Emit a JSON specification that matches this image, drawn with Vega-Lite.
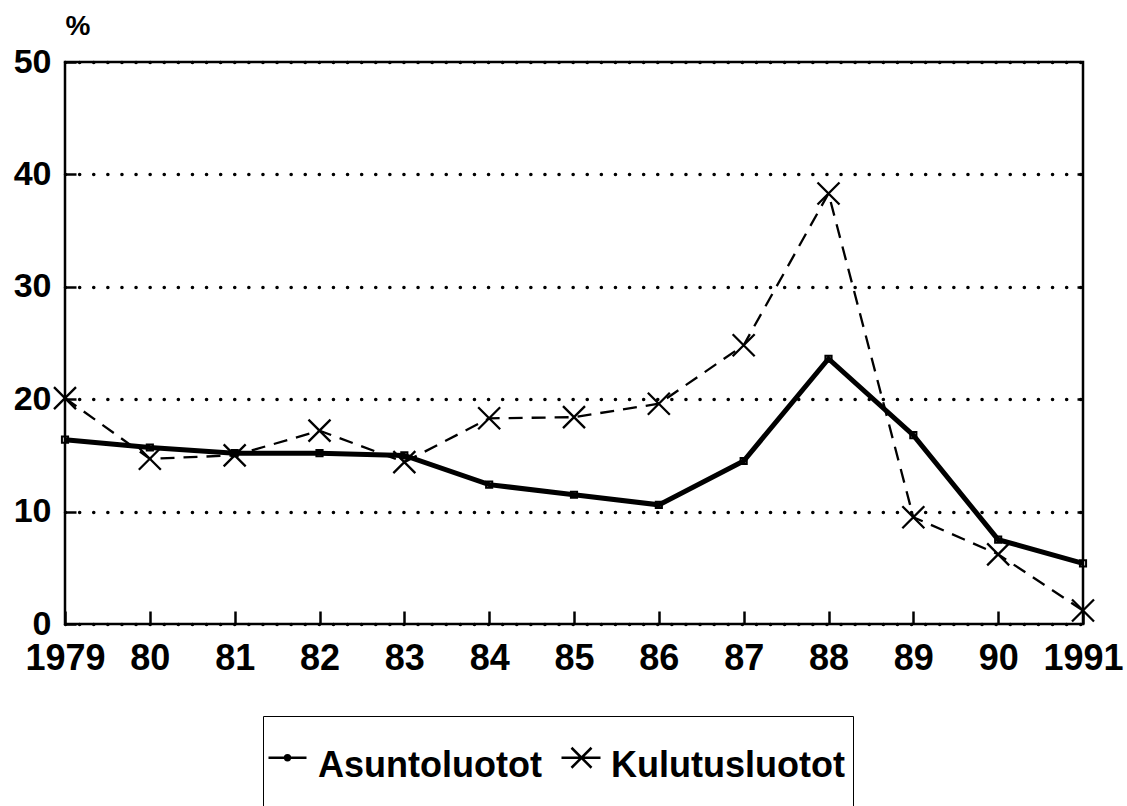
{
  "$schema": "https://vega.github.io/schema/vega-lite/v6.json",
  "width": 1018,
  "height": 562,
  "autosize": "none",
  "padding": {"left": 65, "top": 62, "right": 44, "bottom": 182},
  "background": "white",
  "config": {
    "view": {"stroke": "black", "strokeWidth": 2.5},
    "font": "Liberation Sans"
  },
  "data": {
    "values": [
      {"year": 1979, "series": "Asuntoluotot", "value": 16.4},
      {"year": 1980, "series": "Asuntoluotot", "value": 15.7},
      {"year": 1981, "series": "Asuntoluotot", "value": 15.2},
      {"year": 1982, "series": "Asuntoluotot", "value": 15.2},
      {"year": 1983, "series": "Asuntoluotot", "value": 15.0},
      {"year": 1984, "series": "Asuntoluotot", "value": 12.4},
      {"year": 1985, "series": "Asuntoluotot", "value": 11.5},
      {"year": 1986, "series": "Asuntoluotot", "value": 10.6},
      {"year": 1987, "series": "Asuntoluotot", "value": 14.5},
      {"year": 1988, "series": "Asuntoluotot", "value": 23.6},
      {"year": 1989, "series": "Asuntoluotot", "value": 16.8},
      {"year": 1990, "series": "Asuntoluotot", "value": 7.5},
      {"year": 1991, "series": "Asuntoluotot", "value": 5.4},
      {"year": 1979, "series": "Kulutusluotot", "value": 20.1},
      {"year": 1980, "series": "Kulutusluotot", "value": 14.7},
      {"year": 1981, "series": "Kulutusluotot", "value": 15.0},
      {"year": 1982, "series": "Kulutusluotot", "value": 17.2},
      {"year": 1983, "series": "Kulutusluotot", "value": 14.4},
      {"year": 1984, "series": "Kulutusluotot", "value": 18.3},
      {"year": 1985, "series": "Kulutusluotot", "value": 18.4},
      {"year": 1986, "series": "Kulutusluotot", "value": 19.6},
      {"year": 1987, "series": "Kulutusluotot", "value": 24.8},
      {"year": 1988, "series": "Kulutusluotot", "value": 38.3},
      {"year": 1989, "series": "Kulutusluotot", "value": 9.5},
      {"year": 1990, "series": "Kulutusluotot", "value": 6.2},
      {"year": 1991, "series": "Kulutusluotot", "value": 1.2}
    ]
  },
  "encoding": {
    "x": {
      "field": "year",
      "type": "quantitative",
      "scale": {"domain": [1979, 1991], "nice": false, "zero": false},
      "axis": {
        "values": [1979, 1980, 1981, 1982, 1983, 1984, 1985, 1986, 1987, 1988, 1989, 1990, 1991],
        "format": "d",
        "labelExpr": "datum.value == 1979 || datum.value == 1991 ? datum.label : slice(datum.label, 2)",
        "title": null,
        "grid": false,
        "domain": false,
        "ticks": true,
        "tickSize": -13,
        "tickWidth": 2.5,
        "tickColor": "black",
        "labelFontSize": 36,
        "labelFontWeight": "bold",
        "labelColor": "black",
        "labelPadding": 30,
        "labelOverlap": false,
        "labelFlush": false,
        "labelBound": false
      }
    }
  },
  "layer": [
    {
      "transform": [{"filter": "datum.series == 'Asuntoluotot'"}],
      "mark": {"type": "line", "color": "black", "strokeWidth": 5},
      "encoding": {
        "y": {
          "field": "value",
          "type": "quantitative",
          "scale": {"domain": [0, 50], "nice": false},
          "axis": {
            "orient": "left",
            "values": [0, 10, 20, 30, 40, 50],
            "title": "%",
            "titleAngle": 0,
            "titleX": 0,
            "titleY": -22,
            "titleAlign": "left",
            "titleBaseline": "bottom",
            "titleFontSize": 28,
            "titleFontWeight": "bold",
            "titleColor": "black",
            "grid": true,
            "gridDash": [0.1, 14],
            "gridCap": "round",
            "gridWidth": 3.5,
            "gridColor": "black",
            "domain": false,
            "tickSize": -11,
            "tickWidth": 2.5,
            "tickColor": "black",
            "labelFontSize": 34,
            "labelFontWeight": "bold",
            "labelColor": "black",
            "labelPadding": 25
          }
        }
      }
    },
    {
      "transform": [{"filter": "datum.series == 'Kulutusluotot'"}],
      "mark": {"type": "line", "color": "black", "strokeWidth": 2.3, "strokeDash": [14, 9]},
      "encoding": {
        "y": {"field": "value", "type": "quantitative", "scale": {"domain": [0, 50], "nice": false}, "axis": null}
      }
    },
    {
      "transform": [{"filter": "datum.series == 'Asuntoluotot'"}],
      "mark": {"type": "point", "filled": false, "color": "black", "strokeWidth": 2, "size": 484, "opacity": 1, "shape": "M-0.28,-0.28L0.28,-0.28L0.28,0.28L-0.28,0.28Z"},
      "encoding": {
        "y": {"field": "value", "type": "quantitative", "scale": {"domain": [0, 50], "nice": false}, "axis": null}
      }
    },
    {
      "transform": [{"filter": "datum.series == 'Kulutusluotot'"}],
      "mark": {"type": "point", "filled": false, "color": "black", "strokeWidth": 2.3, "size": 484, "opacity": 1, "shape": "M-1,-1L1,1M-1,1L1,-1"},
      "encoding": {
        "y": {
          "field": "value",
          "type": "quantitative",
          "scale": {"domain": [0, 50], "nice": false},
          "axis": {
            "orient": "right",
            "values": [10, 20, 30, 40],
            "title": null,
            "labels": false,
            "grid": false,
            "domain": false,
            "tickSize": -6,
            "tickWidth": 2.5,
            "tickColor": "black"
          }
        }
      }
    },
    {
      "transform": [{"filter": "false"}],
      "mark": {"type": "point", "filled": false, "color": "black", "strokeWidth": 2.5, "opacity": 1},
      "encoding": {
        "y": {"field": "value", "type": "quantitative", "scale": {"domain": [0, 50], "nice": false}, "axis": null},
        "shape": {
          "field": "series",
          "type": "nominal",
          "scale": {
            "domain": ["Asuntoluotot", "Kulutusluotot"],
            "range": [
              "M-1.1,-0.2L-0.15,-0.2M-0.685,-0.2A0.06,0.06 0 1,0 -0.565,-0.2A0.06,0.06 0 1,0 -0.685,-0.2ZM-0.645,-0.2A0.02,0.02 0 1,0 -0.605,-0.2A0.02,0.02 0 1,0 -0.645,-0.2Z",
              "M-1.1,-0.2L-0.125,-0.2M-0.85,-0.45L-0.35,0.05M-0.85,0.05L-0.35,-0.45"
            ]
          },
          "legend": {
            "orient": "none",
            "legendX": 198,
            "legendY": 654,
            "direction": "horizontal",
            "title": " ",
            "titleOrient": "bottom",
            "titleFontSize": 12,
            "titlePadding": 20,
            "strokeColor": "black",
            "padding": 8,
            "symbolSize": 6400,
            "symbolStrokeWidth": 2.5,
            "symbolStrokeColor": "black",
            "symbolOpacity": 1,
            "labelOffset": -36,
            "columnPadding": 14,
            "labelFontSize": 36,
            "labelFontWeight": "bold",
            "labelColor": "black",
            "labelLimit": 500,
            "labelExpr": "datum.label == 'Kulutusluotot' ? datum.label + '\u00a0\u00a0\u00a0' : datum.label",
            "encode": {
              "legend": {"update": {"strokeWidth": {"value": 2.5}}},
              "labels": {"update": {"dy": {"value": -12}}}
            }
          }
        }
      }
    }
  ],
  "resolve": {"axis": {"y": "independent"}}
}
